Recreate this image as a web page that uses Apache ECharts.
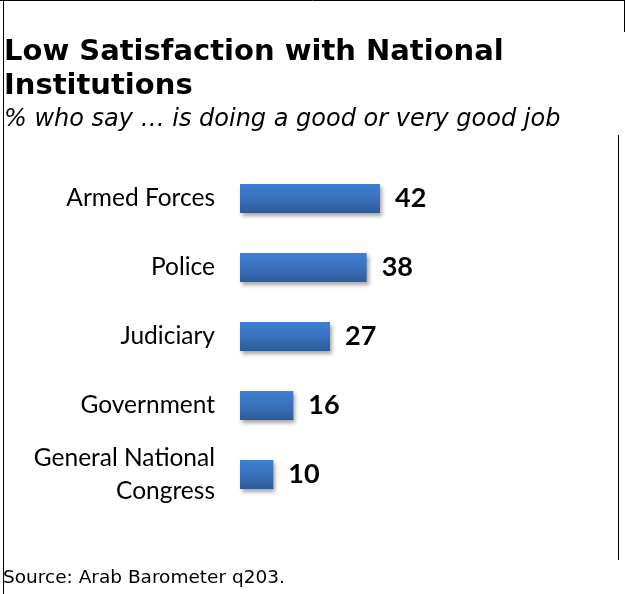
<!DOCTYPE html>
<html>
<head>
<meta charset="utf-8">
<script src="https://cdn.jsdelivr.net/npm/echarts@6/dist/echarts.min.js"></script>
<style>
  html, body { margin: 0; padding: 0; background: #fff; }
  #chart { width: 625px; height: 594px; }
</style>
</head>
<body>
<div id="chart"></div>
<script>
// Institutions, top to bottom, and share saying each does a good or very good job (%)
const institutions = ['Armed Forces', 'Police', 'Judiciary', 'Government', 'General National\nCongress'];
const goodJobShare = [42, 38, 27, 16, 10];

const titleText = 'Low Satisfaction with National\nInstitutions';
const subtitleText = '% who say \u2026 is doing a good or very good job';
const sourceText = 'Source: Arab Barometer q203.';

const chart = echarts.init(document.getElementById('chart'), null, { renderer: 'canvas' });

const barFill = new echarts.graphic.LinearGradient(0, 0, 0, 1, [
  { offset: 0, color: '#3f7fd1' },
  { offset: 0.5, color: '#3a71bd' },
  { offset: 1, color: '#2e5b97' }
]);

chart.setOption({
  backgroundColor: '#ffffff',
  animation: false,
  title: [
    {
      text: titleText,
      left: 4,
      top: 36,
      padding: 0,
      textStyle: {
        fontFamily: 'DejaVu Sans',
        fontWeight: 'bold',
        fontSize: 29,
        lineHeight: 33.5,
        color: '#000'
      }
    },
    {
      text: subtitleText,
      left: 4,
      top: 108,
      padding: 0,
      textStyle: {
        fontFamily: 'DejaVu Sans',
        fontStyle: 'italic',
        fontWeight: 'normal',
        fontSize: 24,
        color: '#000'
      }
    },
    {
      text: sourceText,
      left: 3,
      top: 569,
      padding: 0,
      textStyle: {
        fontFamily: 'DejaVu Sans',
        fontWeight: 'normal',
        fontSize: 18.5,
        color: '#000'
      }
    }
  ],
  grid: {
    left: 240,
    right: 51.67,
    top: 164,
    bottom: 594 - 164 - 345,
    containLabel: false
  },
  xAxis: {
    type: 'value',
    min: 0,
    max: 100,
    show: false
  },
  yAxis: {
    type: 'category',
    data: institutions,
    inverse: true,
    axisLine: { show: false },
    axisTick: { show: false },
    splitLine: { show: false },
    axisLabel: {
      margin: 25,
      fontFamily: 'Lato',
      fontSize: 24.5,
      lineHeight: 33,
      color: '#000',
      align: 'right'
    }
  },
  series: [
    {
      type: 'bar',
      data: goodJobShare,
      barWidth: 29,
      itemStyle: {
        color: barFill,
        shadowColor: 'rgba(0,0,0,0.35)',
        shadowBlur: 4,
        shadowOffsetX: 2,
        shadowOffsetY: 3
      },
      label: {
        show: true,
        position: 'right',
        distance: 15,
        fontFamily: 'Lato',
        fontWeight: 'bold',
        fontSize: 27,
        color: '#000'
      }
    }
  ],
  graphic: [
    { type: 'line', shape: { x1: 0, y1: 0.5, x2: 625, y2: 0.5 }, style: { stroke: '#000', lineWidth: 1 } },
    { type: 'line', shape: { x1: 3.5, y1: 0, x2: 3.5, y2: 594 }, style: { stroke: '#000', lineWidth: 1 } },
    { type: 'line', shape: { x1: 618.5, y1: 135, x2: 618.5, y2: 560 }, style: { stroke: '#000', lineWidth: 1 } },
    { type: 'line', shape: { x1: 624.5, y1: 0, x2: 624.5, y2: 32 }, style: { stroke: '#000', lineWidth: 1 } }
  ]
});
</script>
</body>
</html>
